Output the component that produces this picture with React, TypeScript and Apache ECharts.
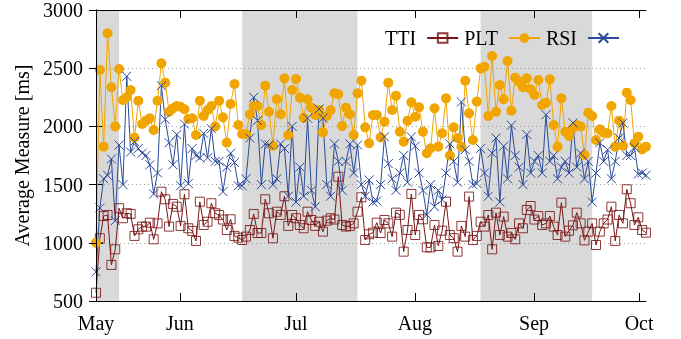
import React, { useEffect, useRef } from 'react';
import * as echarts from 'echarts';

const monthLabels = ['May', 'Jun', 'Jul', 'Aug', 'Sep', 'Oct'];
const monthTicks = [0, 21.8, 52, 82.9, 113.9, 141.2];
const shadedRanges = [[0, 6], [38, 68], [100, 129]];

const tti = [
  571, 1039, 1230, 1239, 810, 944, 1297, 1211, 1254, 1248,
  1059, 1116, 1139, 1139, 1173, 1030, 1167, 1439, 1374, 1139,
  1334, 1310, 1145, 1417, 1125, 1102, 1016, 1353, 1153, 1181,
  1340, 1254, 1239, 1200, 1110, 1202, 1059, 1044, 1024, 1053,
  1110, 1248, 1084, 1084, 1374, 1254, 1039, 1267,
  1239, 1400, 1145, 1239, 1211, 1153, 1125, 1267, 1196, 1145,
  1181, 1096, 1190, 1211, 1200, 1568, 1153, 1139, 1145, 1167,
  1267, 1391, 1024, 1073, 1087, 1173, 1084, 1196, 1167, 1053,
  1259, 1240, 924, 1110, 1420, 1067, 1239, 1202, 961, 961,
  1153, 973, 1104, 1353, 1067, 1040, 924, 1145, 1053,
  1397, 1024, 1059, 1181, 1139, 1239, 944, 1259, 1067, 1225,
  1053, 1084, 1030, 1167, 1125, 1282, 1316, 1200, 1230, 1153,
  1167, 1230, 1139, 1067, 1345, 1053, 1104, 1150, 1259, 1167,
  1021, 1096, 1167, 981, 1096, 1167, 1200, 1310, 1016, 1239,
  1167, 1460, 1340, 1153, 1219, 1110, 1087,
];

const plt = [
  1000, 2485, 1826, 2800, 2336, 2000, 2493, 2227, 2250, 2313,
  1903, 2221, 2021, 2049, 2070, 1969, 2221, 2542, 2376, 2126,
  2155, 2175, 2169, 2147, 2064, 2070, 1926, 2221, 2089, 2141,
  2175, 2000, 2221, 2078, 1860, 2193, 2364, 2012, 1935, 1935,
  2104, 2175, 2175, 2012, 2350, 2126, 1834, 2233,
  2104, 2413, 1926, 2313, 2407, 2247, 2075, 2233, 2161, 2098,
  2141, 1949, 2089, 2141, 2284, 2276, 2004, 2161, 2104, 1926,
  2284, 2393, 1992, 1855, 2098, 2098, 1906, 2041, 2376, 2141,
  2264, 1955, 1869, 2049, 2207, 2083, 2164, 1955, 1769, 1812,
  2155, 1826, 1941, 2241, 1750, 1992, 1900, 1826, 2393,
  2112, 1883, 2213, 2499, 2513, 2089, 2605, 2126, 2356, 2233,
  2562, 2135, 2419, 2384, 2336, 2413, 2319, 2270, 2399, 2184,
  2204, 2404, 2012, 1826, 2241, 1955, 1918, 1984, 2012, 2000,
  1754, 2118, 2089, 1883, 1975, 1946, 1941, 2175, 1826, 2049,
  1834, 2290, 2227, 1855, 1912, 1803, 1826,
];

const rsi = [
  750, 1300, 1550, 1580, 1720, 1190, 1840, 1500, 2430, 1780,
  1870, 1810, 1770, 1750, 1670, 1420, 1600, 2350, 2060, 1860,
  1670, 1930, 1490, 2020, 1510, 1810, 1750, 1730, 1940, 1730,
  1980, 1700, 1700, 1440, 1650, 1770, 1690, 1490, 1490, 1550,
  1900, 2250, 2050, 1500, 1850, 1840, 1500, 1550, 1850, 1810,
  1400, 2000, 1350, 1650, 1400, 2070, 1450, 1310, 2150, 2070,
  1500, 1400, 1850, 1700, 1450, 1700, 1850, 1600, 1840, 1500,
  1400, 1540, 1350, 1360, 1500, 1910, 1680, 1550, 1450, 1600,
  1750, 1520, 1910, 1830, 1600, 1450, 1240, 1500, 1310, 1450,
  1370, 1600, 1850, 1700, 1520, 2210, 1800, 1700, 1500, 1510,
  1810, 1600, 1400, 1770, 1900, 1350, 1830, 1550, 2010, 1750,
  1650, 1500, 1930, 1600, 1700, 1750, 1600, 2100, 1700, 1750,
  1550, 1650, 1700, 1600, 2030, 1650, 1770, 1550, 1700, 1350,
  1600, 1860, 1700, 1800, 1550, 1700, 1900, 2030, 1750, 1750,
  1820, 1590, 1600, 1580,
];

const FONT = "'Liberation Serif', 'Times New Roman', serif";
const RED = '#7a1616';
const ORANGE = '#f0a500';
const BLUE = '#2a4a9a';

export default function App() {
  const ref = useRef<HTMLDivElement>(null);
  useEffect(() => {
    const chart = echarts.init(ref.current!, null, { renderer: 'svg' });
    const N = tti.length;
    const toPairs = (arr: number[]) => arr.map((v, i) => [i, v]);
    const tickFmt = (v: number) => {
      let best = 0;
      let d = Infinity;
      monthTicks.forEach((t, k) => {
        if (Math.abs(t - v) < d) { d = Math.abs(t - v); best = k; }
      });
      return d < 0.5 ? monthLabels[best] : '';
    };
    const xBase: any = {
      type: 'value',
      min: 0,
      max: N - 1,
      z: 3,
      axisLine: { show: true, lineStyle: { color: '#000', width: 1 } },
      splitLine: { show: false },
      axisTick: { show: true, inside: true, length: 8, customValues: monthTicks, lineStyle: { color: '#000' } },
    };
    const yBase: any = {
      type: 'value',
      min: 500,
      max: 3000,
      interval: 500,
      axisLine: { show: true, lineStyle: { color: '#000', width: 1 } },
      axisTick: { show: true, inside: true, length: 7, lineStyle: { color: '#000' } },
    };
    chart.setOption({
      animation: false,
      textStyle: { fontFamily: FONT },
      grid: { left: 96, right: 35, top: 10, bottom: 38 },
      legend: {
        data: ['TTI', 'PLT', 'RSI'],
        right: 56,
        top: 23,
        align: 'right',
        itemWidth: 31,
        itemHeight: 12,
        itemGap: 5,
        textStyle: { fontSize: 20, color: '#000', fontFamily: FONT, padding: [0, 6, 0, 0] },
      },
      xAxis: [
        {
          ...xBase,
          position: 'bottom',
          axisLabel: { customValues: monthTicks, formatter: tickFmt, fontSize: 20, color: '#000', fontFamily: FONT, margin: 12 },
        },
        { ...xBase, position: 'top', axisLabel: { show: false } },
      ],
      yAxis: [
        {
          ...yBase,
          position: 'left',
          z: 1.5,
          name: 'Average Measure [ms]',
          nameLocation: 'middle',
          nameGap: 56,
          nameTextStyle: { fontSize: 20, color: '#000', fontFamily: FONT },
          axisLabel: { fontSize: 20, color: '#000', fontFamily: FONT, margin: 13, formatter: (v: number) => String(v) },
          splitLine: { show: true, lineStyle: { color: '#a0a0a0', width: 1, type: [1, 3] } },
        },
        {
          ...yBase,
          position: 'right',
          z: 3,
          axisLabel: { show: false },
          splitLine: { show: false },
        },
      ],
      series: [
        {
          name: 'shade',
          type: 'line',
          data: [],
          z: 1,
          silent: true,
          markArea: {
            silent: true,
            itemStyle: { color: '#d9d9d9' },
            data: shadedRanges.map(([a, b]) => [{ xAxis: a }, { xAxis: b }]),
          },
        },
        {
          name: 'TTI',
          type: 'line',
          data: toPairs(tti),
          z: 2,
          symbol: 'rect',
          symbolSize: 9,
          itemStyle: { color: 'transparent', borderColor: 'rgba(122,22,22,0.85)', borderWidth: 1 },
          lineStyle: { color: RED, width: 1 },
        },
        {
          name: 'PLT',
          type: 'line',
          data: toPairs(plt),
          z: 2,
          symbol: 'circle',
          symbolSize: 10,
          itemStyle: { color: ORANGE },
          lineStyle: { color: ORANGE, width: 1 },
        },
        {
          name: 'RSI',
          type: 'line',
          data: toPairs(rsi),
          z: 2,
          symbol: 'path://M0,0L10,10M0,10L10,0',
          symbolSize: 9,
          itemStyle: { color: 'none', borderColor: BLUE, borderWidth: 1 },
          lineStyle: { color: BLUE, width: 1 },
        },
      ],
    });
    return () => chart.dispose();
  }, []);
  return <div ref={ref} style={{ position: 'fixed', left: 0, top: 0, width: 681, height: 339 }} />;
}
